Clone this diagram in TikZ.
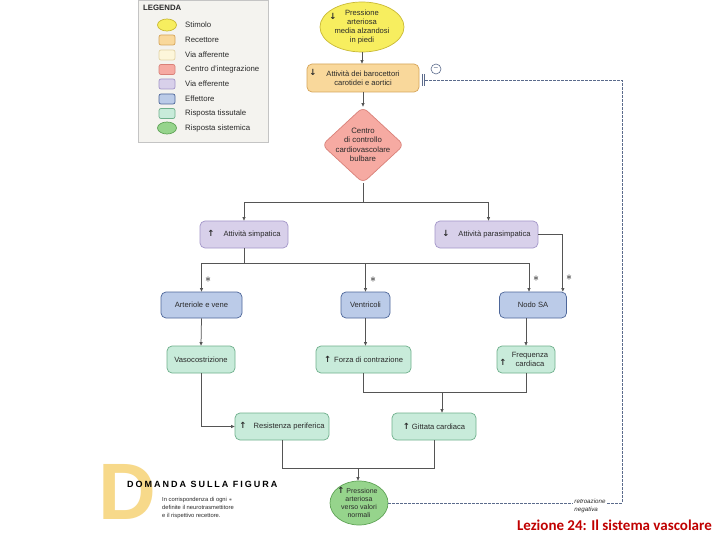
\documentclass[tikz,border=0pt]{standalone}
\usepackage{fontspec}
\setmainfont{Liberation Sans}
\newfontfamily\dvs{DejaVu Sans}
\newfontfamily\calib{Carlito}
\newfontfamily\spaced[LetterSpace=22]{Liberation Sans}
\usetikzlibrary{shapes.geometric,arrows.meta}
\definecolor{stimF}{HTML}{F7EE5F}\definecolor{stimD}{HTML}{C9B935}
\definecolor{recF}{HTML}{F9D89B}\definecolor{recD}{HTML}{D6A55A}
\definecolor{affF}{HTML}{FDF6DA}\definecolor{affD}{HTML}{E2D3A6}
\definecolor{cenF}{HTML}{F6AAA2}\definecolor{cenD}{HTML}{D98078}
\definecolor{vefF}{HTML}{D8D0EA}\definecolor{vefD}{HTML}{A396C9}
\definecolor{effF}{HTML}{BBCBE8}\definecolor{effD}{HTML}{4D6699}
\definecolor{tisF}{HTML}{C8EBDA}\definecolor{tisD}{HTML}{6FB08C}
\definecolor{sysF}{HTML}{96D48C}\definecolor{sysD}{HTML}{5FA356}
\definecolor{legF}{HTML}{F4F3EF}\definecolor{legD}{HTML}{C4C4C4}
\definecolor{lineC}{HTML}{555555}
\definecolor{fbC}{HTML}{5B6B8C}
\definecolor{txtC}{HTML}{2A2A2A}
\definecolor{dF}{HTML}{F7D98A}
\definecolor{lezC}{HTML}{C00000}
\newcommand\uarr{{\dvs\bfseries\fontsize{8.5}{8.5}\selectfont ↑}}
\newcommand\darr{{\dvs\bfseries\fontsize{8.5}{8.5}\selectfont ↓}}
\begin{document}
\begin{tikzpicture}[x=1pt,y=-1pt,
  every node/.style={inner sep=1pt, text=txtC},
  bx/.style={draw, rounded corners=5pt, line width=0.7pt, align=center,
    font=\fontsize{7.6}{9}\selectfont, inner sep=1pt},
  vef/.style={bx, fill=vefF, draw=vefD},
  eff/.style={bx, fill=effF, draw=effD},
  tis/.style={bx, fill=tisF, draw=tisD},
  conn/.style={draw=lineC, line width=0.75pt},
  arr/.style={conn, -{Triangle[length=3.5pt,width=3pt]}},
  fb/.style={draw=fbC, line width=0.8pt, dash pattern=on 2.5pt off 1.5pt},
  sw/.style={draw, line width=0.7pt, minimum width=16, minimum height=10, rounded corners=2pt, inner sep=0},
  swe/.style={ellipse, draw, line width=0.7pt, minimum width=19, minimum height=12, inner sep=0},
  lt/.style={anchor=west, font=\fontsize{7.8}{9}\selectfont},
  star/.style={font=\fontsize{13}{13}\selectfont, inner sep=0, text=black},
  glyph/.style={inner sep=0}]
\useasboundingbox (0,0) rectangle (720,540);
\fill[white] (0,0) rectangle (720,540);

% ---------- legend ----------
\node[draw=legD, fill=legF, minimum width=130, minimum height=142, anchor=north west,
  inner sep=0, line width=0.8pt] (leg) at (138,0) {};
\node[anchor=west, font=\fontsize{7.8}{9}\bfseries\selectfont] (legt) at (142,8) {LEGENDA};
\node[swe, fill=stimF, draw=stimD] (ls1) at (167,25) {};
\node[sw, fill=recF, draw=recD] (ls2) at (167,40) {};
\node[sw, fill=affF, draw=affD] (ls3) at (167,55) {};
\node[sw, fill=cenF, draw=cenD] (ls4) at (167,69.5) {};
\node[sw, fill=vefF, draw=vefD] (ls5) at (167,84) {};
\node[sw, fill=effF, draw=effD] (ls6) at (167,99) {};
\node[sw, fill=tisF, draw=tisD] (ls7) at (167,113.5) {};
\node[swe, fill=sysF, draw=sysD] (ls8) at (167,128) {};
\node[lt] (lt1) at (184,25) {Stimolo};
\node[lt] (lt2) at (184,40) {Recettore};
\node[lt] (lt3) at (184,55) {Via afferente};
\node[lt] (lt4) at (184,69.5) {Centro d'integrazione};
\node[lt] (lt5) at (184,84) {Via efferente};
\node[lt] (lt6) at (184,99) {Effettore};
\node[lt] (lt7) at (184,113.5) {Risposta tissutale};
\node[lt] (lt8) at (184,128) {Risposta sistemica};

% ---------- main chain ----------
\node[ellipse, draw=stimD, fill=stimF, minimum width=84, minimum height=50, line width=0.7pt,
  inner sep=0, align=center, font=\fontsize{7.6}{9}\selectfont] (stim) at (362,27)
  {Pressione\\arteriosa\\media alzandosi\\in piedi};
\node[glyph] (stima) at (333,16) {\darr};

\node[bx, fill=recF, draw=recD, minimum width=112, minimum height=28] (rec) at (363,78)
  {Attività dei barocettori\\carotidei e aortici};
\node[glyph] (reca) at (313,72) {\darr};

\node[diamond, draw=cenD, fill=cenF, minimum width=82, minimum height=76, rounded corners=6pt,
  line width=0.7pt, inner sep=0] (cen) at (363,145) {};
\node[align=center, font=\fontsize{7.8}{9.5}\selectfont] (cent) at (cen)
  {Centro\\di controllo\\cardiovascolare\\bulbare};

\node[vef, minimum width=88, minimum height=27] (simp) at (244,234.5) {\uarr\hspace{9pt}Attività simpatica};
\node[vef, minimum width=103, minimum height=27] (para) at (486.5,234.5) {\darr\hspace{9pt}Attività parasimpatica};

\node[eff, minimum width=81, minimum height=26] (art) at (201.5,305) {Arteriole e vene};
\node[eff, minimum width=49, minimum height=26] (ven) at (365.5,305) {Ventricoli};
\node[eff, minimum width=67, minimum height=26] (nodo) at (533,305) {Nodo SA};

\node[tis, minimum width=68, minimum height=27] (vaso) at (201,359.5) {Vasocostrizione};
\node[tis, minimum width=95, minimum height=27] (forza) at (363.5,359.5) {\uarr\hspace{3pt}Forza di contrazione};
\node[tis, minimum width=58, minimum height=27] (freq) at (526,359.5) {\hspace{8pt}Frequenza\\\hspace{8pt}cardiaca};
\node[glyph] (freqa) at (503,362) {\uarr};

\node[tis, minimum width=94, minimum height=27] (res) at (282,426.5) {\uarr\hspace{7pt}Resistenza periferica};
\node[tis, minimum width=84, minimum height=27] (gitt) at (434,426.5) {\uarr\hspace{2pt}Gittata cardiaca};

\node[ellipse, draw=sysD, fill=sysF, minimum width=58, minimum height=44, line width=0.7pt,
  inner sep=0, align=center, font=\fontsize{7}{8.3}\selectfont] (fin) at (359,503)
  {\hspace{6pt}Pressione\\arteriosa\\verso valori\\normali};
\node[glyph] (fina) at (341,490) {\uarr};

% ---------- connectors ----------
\draw[arr] (stim.south) -- (stim.south |- rec.north);
\draw[arr] (rec.south) -- (rec.south |- cen.north);
\coordinate (j1) at (363,202);
\draw[conn] (cen.south) -- (j1);
\draw[arr] (j1) -| (simp.north);
\draw[arr] (j1) -| ([xshift=2pt]para.north);

\coordinate (j2) at (244,263);
\draw[conn] (simp.south) -- (j2);
\draw[arr] (j2) -| (art.north);
\draw[arr] (j2) -| (ven.north);
\draw[arr] (j2) -| ([xshift=-4pt]nodo.north);
\draw[arr] (para.east) -| ([xshift=-4pt]nodo.north east);

\node[star] (s1) at (208,280) {$\ast$};
\node[star] (s2) at (373,280) {$\ast$};
\node[star] (s3) at (536,279) {$\ast$};
\node[star] (s4) at (569,278) {$\ast$};

\draw[arr] (art.south) -- (vaso.north);
\draw[arr] (ven.south) -- (ven.south |- forza.north);
\draw[arr] (freq.north |- nodo.south) -- (freq.north);

\draw[arr] (vaso.south) |- (res.west);
\coordinate (j3) at (442,392);
\draw[conn] (forza.south) |- (j3);
\draw[conn] (freq.south) |- (j3);
\draw[arr] (j3) -- (j3 |- gitt.north);

\coordinate (j4) at (358,468);
\draw[conn] (res.south) |- (j4);
\draw[conn] (gitt.south) |- (j4);
\draw[arr] (j4) -- (j4 |- fin.north);

% ---------- negative feedback ----------
\node[align=left, font=\fontsize{6.2}{8}\itshape\selectfont, fill=white, inner sep=1.5pt] (fbl) at (590,506)
  {retroazione\\negativa};
\coordinate (c1) at (622,503);
\coordinate (c2) at (622,80);
\coordinate (db) at ([shift={(6,2)}]rec.east);
\draw[fb] (fin.east) -- (fin.east -| fbl.west);
\draw[fb] (fbl.east |- c1) -- (c1) -- (c2) -- (db);
\draw[fbC, line width=0.8pt] ([shift={(3,-4)}]rec.east) -- ([shift={(3,8)}]rec.east);
\draw[fbC, line width=0.8pt] ([shift={(5.5,-4)}]rec.east) -- ([shift={(5.5,8)}]rec.east);
\node[circle, draw=fbC, line width=0.6pt, minimum size=10, inner sep=0,
  font=\fontsize{8}{8}\selectfont, text=fbC] (minus) at (436,69) {−};

% ---------- question box ----------
\node[font=\fontsize{80}{80}\bfseries\selectfont, text=dF, inner sep=0] (bigD) at (127,492) {D};
\node[anchor=west, font=\spaced\fontsize{9}{10}\bfseries\selectfont, text=black, inner sep=0] (dom) at (127,484)
  {DOMANDA SULLA FIGURA};
\node[anchor=north west, align=left, font=\fontsize{5.8}{8}\selectfont, inner sep=0] (q) at (162,497)
  {In corrispondenza di ogni $\ast$\\definite il neurotrasmettitore\\e il rispettivo recettore.};

\node[anchor=east, font=\calib\fontsize{15}{16}\bfseries\selectfont, text=lezC, inner sep=0] (lez) at (712,525)
  {Lezione 24: Il sistema vascolare};
\end{tikzpicture}
\end{document}
